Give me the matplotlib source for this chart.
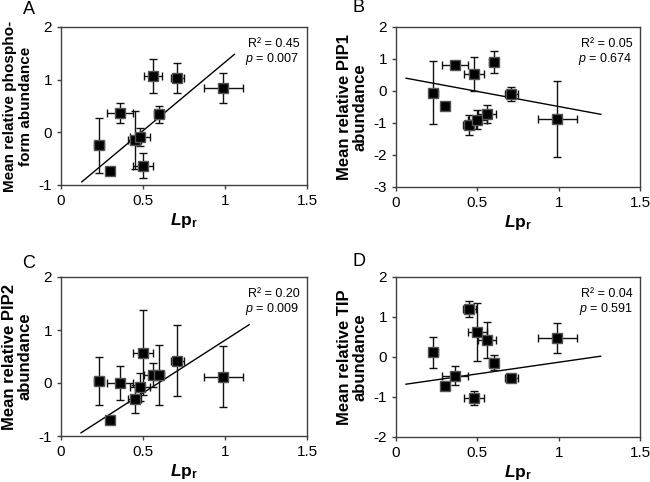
import matplotlib
matplotlib.use('Agg')
import matplotlib.pyplot as plt

plt.rcParams['font.family'] = ['Liberation Sans', 'DejaVu Sans']
plt.rcParams['axes.unicode_minus'] = False
plt.rcParams['mathtext.fontset'] = 'custom'
plt.rcParams['mathtext.rm'] = 'Liberation Sans'
plt.rcParams['mathtext.bf'] = 'Liberation Sans:bold'
plt.rcParams['mathtext.it'] = 'Liberation Sans:italic'
plt.rcParams['mathtext.bfit'] = 'Liberation Sans:bold:italic'

# Lpr (x) shared by all panels
lpr = [0.23, 0.30, 0.36, 0.45, 0.48, 0.50, 0.56, 0.60, 0.71, 0.99]
lpr_err = [0.03, 0.02, 0.08, 0.04, 0.06, 0.06, 0.055, 0.03, 0.04, 0.12]

# A: phospho-form
phos = [-0.25, -0.73, 0.37, -0.15, -0.09, -0.63, 1.07, 0.34, 1.03, 0.84]
phos_err = [0.53, 0.07, 0.19, 0.55, 0.17, 0.23, 0.33, 0.16, 0.28, 0.28]
# B: PIP1
pip1 = [-0.05, -0.46, 0.80, -1.07, 0.53, -0.90, -0.72, 0.91, -0.09, -0.88]
pip1_err = [0.98, 0.10, 0.05, 0.32, 0.52, 0.30, 0.29, 0.34, 0.22, 1.18]
# C: PIP2
pip2 = [0.04, -0.70, 0.00, -0.30, -0.08, 0.57, 0.15, 0.15, 0.42, 0.12]
pip2_err = [0.45, 0.07, 0.32, 0.27, 0.26, 0.80, 0.23, 0.56, 0.67, 0.58]
# D: TIP
tip = [0.12, -0.72, -0.47, 1.19, -1.02, 0.62, 0.42, -0.14, -0.52, 0.47]
tip_err = [0.39, 0.07, 0.24, 0.20, 0.17, 0.73, 0.45, 0.18, 0.10, 0.38]

# trend line end points (x0, x1), (y0, y1)
fit_x = [(0.127, 1.057), (0.062, 1.26), (0.122, 1.147), (0.061, 1.258)]
fit_y = [(-0.94, 1.48), (0.40, -0.73), (-0.94, 1.10), (-0.68, 0.02)]

stats = ['R² = 0.45\n$p$ = 0.007', 'R² = 0.05\n$p$ = 0.674',
         'R² = 0.20\n$p$ = 0.009', 'R² = 0.04\n$p$ = 0.591']
letters = ['A', 'B', 'C', 'D']
ylabels = ['Mean relative phospho-\nform abundance', 'Mean relative PIP1\nabundance',
           'Mean relative PIP2\nabundance', 'Mean relative TIP\nabundance']
ylims = [(-1, 2), (-3, 2), (-1, 2), (-2, 2)]
ys = [phos, pip1, pip2, tip]
yerrs = [phos_err, pip1_err, pip2_err, tip_err]

W, H = 650, 482
boxes = [(61, 27, 307, 185), (396, 27, 640, 187), (61, 277, 307, 436), (396, 277, 640, 437)]
letter_pos = [(29, 10), (359, 8), (29, 263), (359, 262)]
ylab_size = [11, 12, 12, 12]
ylab_space = [1.15, 1.1, 1.1, 1.1]

fig = plt.figure(figsize=(6.5, 4.82), dpi=100)
for i in range(4):
    l, t, r, b = boxes[i]
    ax = fig.add_axes([l / W, 1 - b / H, (r - l) / W, (b - t) / H])
    ax.errorbar(lpr, ys[i], xerr=lpr_err, yerr=yerrs[i], fmt='s', color='black',
                ms=6.5, mfc='black', mec='#555555', ecolor='#111111', elinewidth=1,
                capsize=3, capthick=1, zorder=3)
    ax.plot(fit_x[i], fit_y[i], color='black', lw=1, zorder=2)
    ax.set_xlim(0, 1.5)
    ax.set_ylim(*ylims[i])
    ax.set_xticks([0, 0.5, 1, 1.5])
    ax.set_xticklabels(['0', '0.5', '1', '1.5'])
    ax.set_yticks(range(ylims[i][0], ylims[i][1] + 1))
    ax.tick_params(direction='out', length=3, width=1, labelsize=11, color='#404040')
    for s in ax.spines.values():
        s.set_color('#404040')
        s.set_linewidth(1)
    ax.set_xlabel(r'$\mathbfit{L}\mathbf{p}_\mathbf{r}$', fontsize=12.5, labelpad=2)
    ax.set_ylabel(ylabels[i], fontsize=ylab_size[i], fontweight='bold', labelpad=4,
                  linespacing=ylab_space[i])
    ax.text(0.97, 0.93, stats[i], transform=ax.transAxes, ha='right', va='top',
            fontsize=9, linespacing=1.1)
    fig.text(letter_pos[i][0] / W, 1 - letter_pos[i][1] / H, letters[i],
             ha='center', va='center', fontsize=13)

fig.savefig('out.png', dpi=100)
